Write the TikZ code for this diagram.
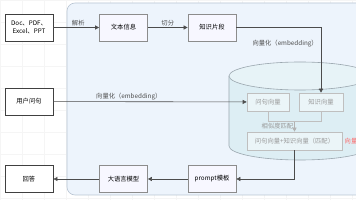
\documentclass[tikz,border=0pt]{standalone}
\usepackage{fontspec}
\setmainfont{Noto Sans CJK SC}
\usepackage{xcolor}
\usetikzlibrary{positioning,arrows.meta}

\definecolor{zone}{HTML}{EDF4FC}
\definecolor{zoneline}{HTML}{B9C5D3}
\definecolor{cyl}{HTML}{DDEEF4}
\definecolor{cylline}{HTML}{9AA6AE}

\begin{document}
\begin{tikzpicture}[
  x=1pt, y=-1pt,
  font=\fontsize{6.3}{7.6}\selectfont,
  box/.style   = {draw, align=center, minimum width=48pt,
                  minimum height=27pt, inner sep=1pt},
  ext/.style   = {box, draw=black!75, line width=0.8pt, fill=white},
  proc/.style  = {box, draw=black!45, line width=0.7pt, fill=blue!3},
  vec/.style   = {box, draw=black!25, line width=0.6pt, fill=cyl!60,
                  text=black!40, minimum height=18pt},
  lbl/.style   = {text=black!70, inner sep=1pt},
  flow/.style  = {-{Triangle[length=4pt,width=4pt]}, draw=black!70, line width=0.6pt},
  faint/.style = {draw=black!25, line width=0.6pt},
]
\useasboundingbox (0,0) rectangle (356,200);
\clip (0,0) rectangle (356,200);

% ---------- background ----------
\draw[black!4, line width=0.4pt, step=22pt] (0,0) grid (356,200);
\draw[zoneline, fill=zone, rounded corners=8pt, line width=0.6pt]
      (67,3) rectangle (420,195);

% ---------- vector store ----------
\draw[cylline, fill=cyl, line width=0.6pt]
      (229,76) -- (229,146) arc[start angle=180, end angle=360,
      x radius=71pt, y radius=14pt] -- (371,76);
\draw[cylline, fill=cyl!70, line width=0.6pt]
      (300,76) ellipse [x radius=71pt, y radius=14pt];

% ---------- sources ----------
\node[ext]  (doc) at (29,27.5)  {Doc、PDF、\\Excel、PPT};
\node[proc] (txt) at (123.5,27.5) {文本信息};
\node[proc] (seg) at (212,27.5) {知识片段};
\node[ext]  (ask) at (29,101.5) {用户问句};

% ---------- vectors ----------
\node[vec, minimum width=42pt] (qv) at (268,102) {问句向量};
\node[vec, minimum width=44pt] (kv) at (321,102) {知识向量};
\node[vec, minimum width=95pt] (mt) at (294.5,141) {问句向量+知识向量（匹配）};
\node[text=red!60, anchor=west, inner sep=0pt] (red) at (344.5,141) {向量};

% ---------- answer ----------
\node[proc] (pt)  at (212,179) {prompt模板};
\node[proc] (llm) at (123.5,179) {大语言模型};
\node[ext]  (ans) at (29,179) {回答};

\draw[flow] (doc) -- node[lbl, above, pos=0.5, xshift=2pt] {解析} (txt);
\draw[flow] (txt) -- node[lbl, above] {切分} (seg);
\draw[flow] (seg.east) -| (kv.north)
      node[lbl, pos=0.62, left, xshift=-2pt] {向量化（embedding）};
\draw[flow] (ask) -- (qv)
      node[lbl, pos=0.39, above] {向量化（embedding）};

\coordinate (mj) at ([yshift=10pt]mt.north);
\draw[faint] (qv.south) |- (mj) -| (kv.south);
\draw[flow, draw=black!30] (mj) -- (mt)
      node[lbl, text=black!40, midway, left, yshift=1pt] {相似度匹配};

\draw[flow] (mt.south) |- (pt.east);
\draw[flow] (pt) -- (llm);
\draw[flow] (llm) -- (ans);

\end{tikzpicture}
\end{document}
